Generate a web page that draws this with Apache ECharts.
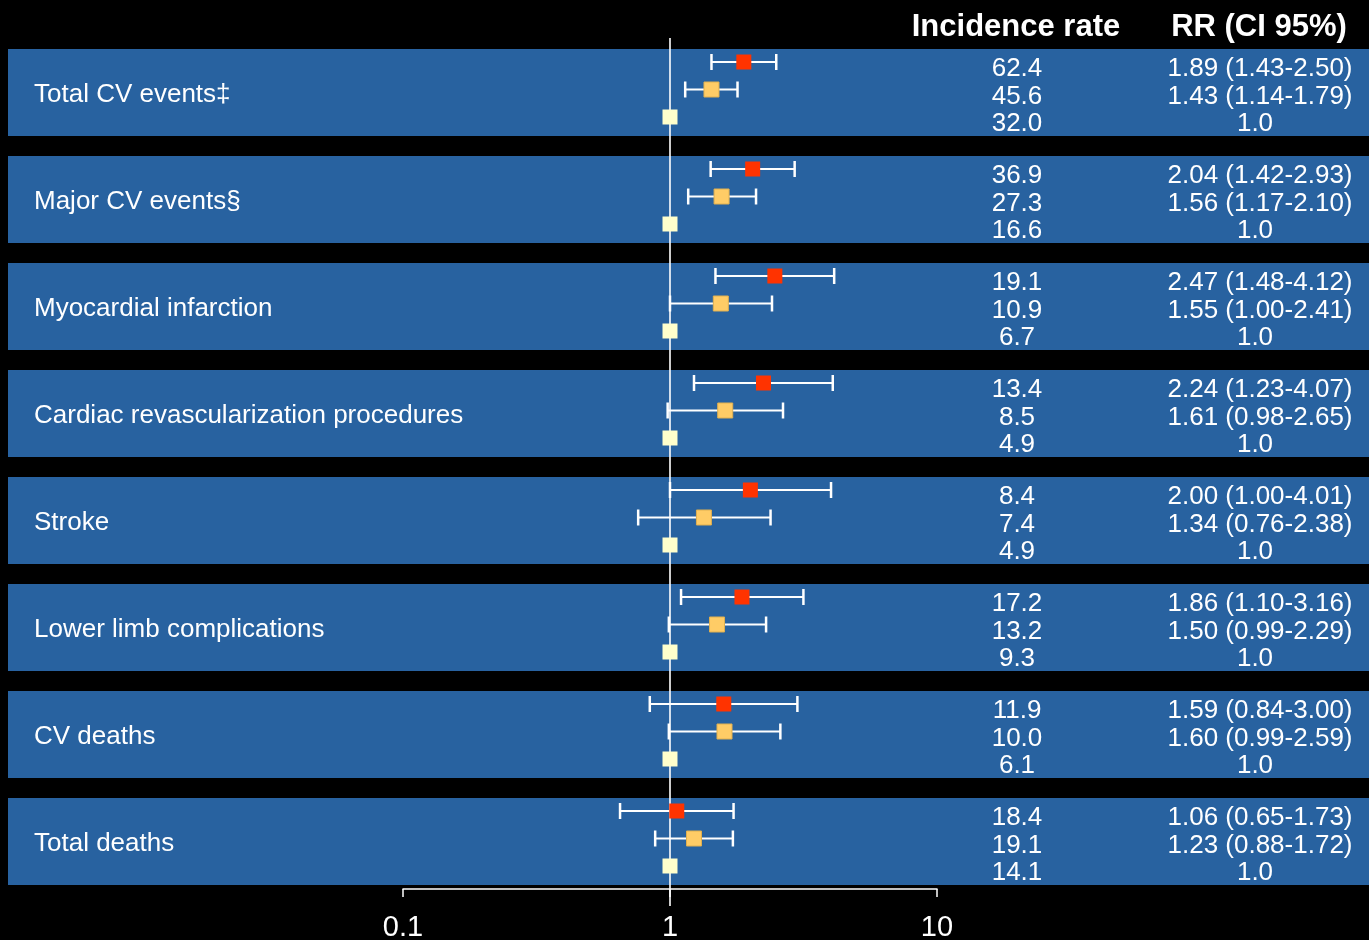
<!DOCTYPE html>
<html>
<head>
<meta charset="utf-8">
<script src="https://cdn.jsdelivr.net/npm/echarts@6/dist/echarts.min.js"></script>
<style>
html,body{margin:0;padding:0;background:#000;}
#main{width:1369px;height:940px;}
</style>
</head>
<body>
<div id="main"></div>
<script>
// ---- data ----
const groups = ['Total CV events\u2021', 'Major CV events\u00a7', 'Myocardial infarction',
  'Cardiac revascularization procedures', 'Stroke', 'Lower limb complications', 'CV deaths', 'Total deaths'];
const rateHigh = [62.4, 36.9, 19.1, 13.4, 8.4, 17.2, 11.9, 18.4];
const rateMid  = [45.6, 27.3, 10.9, 8.5, 7.4, 13.2, 10.0, 19.1];
const rateRef  = [32.0, 16.6, 6.7, 4.9, 4.9, 9.3, 6.1, 14.1];
const rrHigh = [1.89, 2.04, 2.47, 2.24, 2.00, 1.86, 1.59, 1.06];
const loHigh = [1.43, 1.42, 1.48, 1.23, 1.00, 1.10, 0.84, 0.65];
const hiHigh = [2.50, 2.93, 4.12, 4.07, 4.01, 3.16, 3.00, 1.73];
const rrMid  = [1.43, 1.56, 1.55, 1.61, 1.34, 1.50, 1.60, 1.23];
const loMid  = [1.14, 1.17, 1.00, 0.98, 0.76, 0.99, 0.99, 0.88];
const hiMid  = [1.79, 2.10, 2.41, 2.65, 2.38, 2.29, 2.59, 1.72];
const rrRef  = [1.0, 1.0, 1.0, 1.0, 1.0, 1.0, 1.0, 1.0];
const tickLabels = {0.1: '0.1', 1: '1', 10: '10'};
const headers = ['Incidence rate', 'RR (CI 95%)'];

// ---- layout (styles) ----
const PERIOD = 107, BAND_H = 87, ROW0 = 13, ROW_STEP = 27.5;
const BAND = '#2862A0';
const FONT = "'Liberation Sans', Arial, sans-serif";
const rowY = (g, r) => g * PERIOD + ROW0 + r * ROW_STEP;

const fmt2 = v => v.toFixed(2);
const rrText = (rr, lo, hi) => `${fmt2(rr)} (${fmt2(lo)}-${fmt2(hi)})`;

const chart = echarts.init(document.getElementById('main'), null, {renderer: 'canvas'});

const bandSeries = {
  type: 'custom',
  clip: false,
  silent: true,
  z: 1,
  data: groups.map((_, i) => [1, i]),
  encode: {x: 0, y: 1},
  renderItem: (params, api) => {
    const g = api.value(1);
    const top = api.coord([1, g * PERIOD])[1];
    const bot = api.coord([1, g * PERIOD + BAND_H])[1];
    const children = [
      {type: 'rect', shape: {x: 8, y: top, width: 1361, height: bot - top}, style: {fill: BAND}},
      {type: 'text', x: 34, y: (top + bot) / 2 + 2.5,
        style: {text: groups[g], fill: '#fff', fontSize: 26, fontFamily: FONT, align: 'left', verticalAlign: 'middle'}}
    ];
    const rates = [rateHigh[g], rateMid[g], rateRef[g]];
    const rrs = [rrText(rrHigh[g], loHigh[g], hiHigh[g]), rrText(rrMid[g], loMid[g], hiMid[g]), rrRef[g].toFixed(1)];
    for (let r = 0; r < 3; r++) {
      const y = api.coord([1, rowY(g, r)])[1] + 7;
      children.push({type: 'text', x: 1017, y: y,
        style: {text: rates[r].toFixed(1), fill: '#fff', fontSize: 26, fontFamily: FONT, align: 'center', verticalAlign: 'middle'}});
      children.push({type: 'text', x: r === 2 ? 1255 : 1260, y: y,
        style: {text: rrs[r], fill: '#fff', fontSize: 26, fontFamily: FONT, align: 'center', verticalAlign: 'middle'}});
    }
    return {type: 'group', children};
  }
};

const refLineSeries = {
  type: 'custom',
  clip: false,
  silent: true,
  z: 2,
  data: [[1, 0]],
  encode: {x: 0, y: 1},
  renderItem: (params, api) => {
    const x = api.coord([api.value(0), 0])[0];
    return {type: 'line', shape: {x1: x, y1: 38, x2: x, y2: 906}, style: {stroke: '#fff', lineWidth: 1.6}};
  }
};

function ciSeries(lo, hi, r) {
  return {
    type: 'custom',
    clip: false,
    silent: true,
    z: 3,
    data: lo.map((v, g) => [v, hi[g], rowY(g, r)]),
    encode: {x: [0, 1], y: 2},
    renderItem: (params, api) => {
      const p1 = api.coord([api.value(0), api.value(2)]);
      const p2 = api.coord([api.value(1), api.value(2)]);
      const st = {stroke: '#fff', lineWidth: 2};
      return {type: 'group', children: [
        {type: 'line', shape: {x1: p1[0], y1: p1[1], x2: p2[0], y2: p2[1]}, style: st},
        {type: 'line', shape: {x1: p1[0], y1: p1[1] - 8, x2: p1[0], y2: p1[1] + 8}, style: {stroke: '#fff', lineWidth: 2.5}},
        {type: 'line', shape: {x1: p2[0], y1: p2[1] - 8, x2: p2[0], y2: p2[1] + 8}, style: {stroke: '#fff', lineWidth: 2.5}}
      ]};
    }
  };
}

function markerSeries(vals, r, color, border) {
  return {
    type: 'scatter',
    silent: true,
    z: 4,
    symbol: 'rect',
    symbolSize: 15,
    itemStyle: {color: color, borderColor: border || color, borderWidth: border ? 1 : 0, opacity: 1},
    data: vals.map((v, g) => [v, rowY(g, r)])
  };
}

chart.setOption({
  animation: false,
  backgroundColor: '#000',
  grid: {left: 403, right: 432, top: 49, bottom: 55, containLabel: false, outerBoundsMode: 'none'},
  xAxis: {
    type: 'log', logBase: 10, min: 0.1, max: 10,
    position: 'bottom',
    offset: 4,
    axisLine: {show: true, onZero: false, lineStyle: {color: '#fff', width: 1.5}},
    axisTick: {show: true, length: 8, lineStyle: {color: '#fff', width: 1.5}},
    minorTick: {show: false},
    splitLine: {show: false},
    axisLabel: {color: '#fff', fontSize: 29, fontFamily: FONT, margin: 24,
      formatter: v => tickLabels[+(+v).toPrecision(3)] || ''}
  },
  yAxis: {type: 'value', min: 0, max: 836, inverse: true, show: false},
  graphic: [
    {type: 'text', x: 1016, y: 27, style: {text: headers[0], fill: '#fff', font: 'bold 31px ' + FONT, align: 'center', verticalAlign: 'middle'}},
    {type: 'text', x: 1259, y: 27, style: {text: headers[1], fill: '#fff', font: 'bold 31px ' + FONT, align: 'center', verticalAlign: 'middle'}}
  ],
  series: [
    bandSeries,
    refLineSeries,
    ciSeries(loHigh, hiHigh, 0),
    ciSeries(loMid, hiMid, 1),
    markerSeries(rrHigh, 0, '#FF3300'),
    markerSeries(rrMid, 1, '#FFCC66', '#E0B050'),
    markerSeries(rrRef, 2, '#FFFFCC')
  ]
});
</script>
</body>
</html>
